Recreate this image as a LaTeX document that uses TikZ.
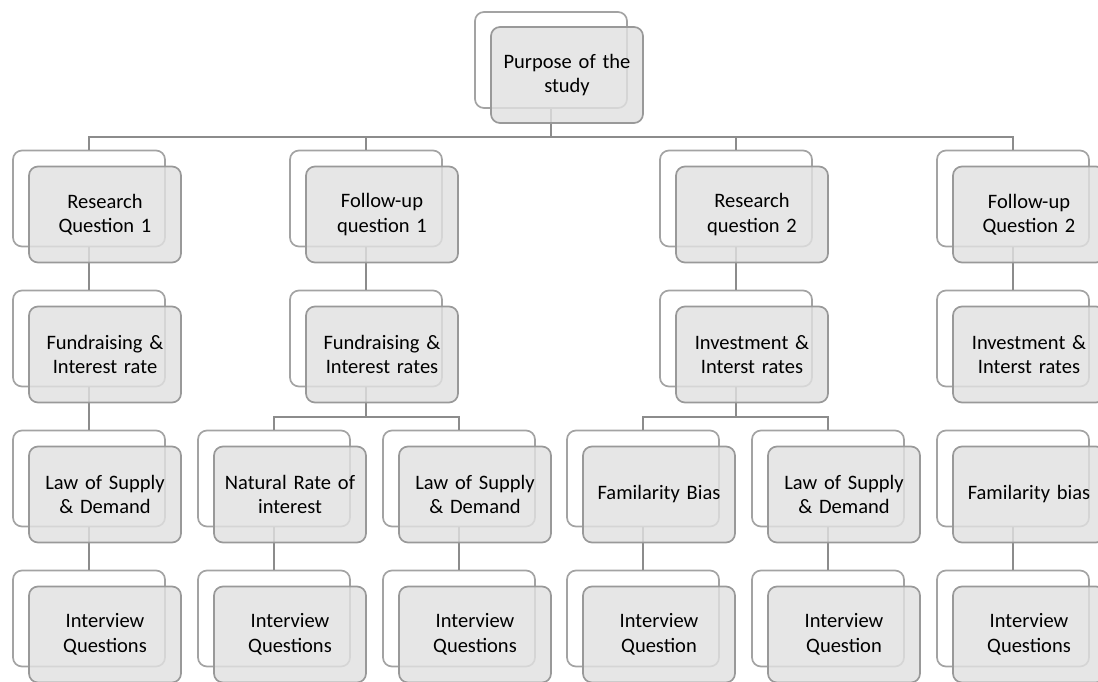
\documentclass[tikz,border=0pt]{standalone}
\usepackage{fontspec}
\setmainfont{Carlito}
\definecolor{backline}{HTML}{A3A3A3}
\definecolor{frontline}{HTML}{999999}
\definecolor{frontfill}{HTML}{E1E1E1}
\definecolor{connc}{HTML}{8C8C8C}
\tikzset{
  backbox/.style={draw=backline, fill=white, line width=1.7pt, rounded corners=9pt,
    minimum width=152pt, minimum height=96pt, inner sep=0pt},
  frontbox/.style={draw=frontline, fill=frontfill, fill opacity=0.82, text opacity=1,
    line width=1.7pt, rounded corners=9pt, minimum width=152pt, minimum height=96pt,
    inner sep=0pt, align=center, text width=150pt,
    font=\fontsize{20.5}{24.5}\selectfont, text=black},
  conn/.style={draw=connc, line width=2pt}
}
\begin{document}
\begin{tikzpicture}[x=1pt,y=-1pt]
\useasboundingbox (0,0) rectangle (1098,682);
% back boxes
\node[backbox] (t)   at (551,60) {};
\node[backbox] (c1)  at (89,198.5) {};
\node[backbox] (c2)  at (366,198.5) {};
\node[backbox] (c3)  at (736,198.5) {};
\node[backbox] (c4)  at (1013,198.5) {};
\node[backbox] (d1)  at (89,338.5) {};
\node[backbox] (d2)  at (366,338.5) {};
\node[backbox] (d3)  at (736,338.5) {};
\node[backbox] (d4)  at (1013,338.5) {};
\node[backbox] (e1)  at (89,478.5) {};
\node[backbox] (e2a) at (274,478.5) {};
\node[backbox] (e2b) at (459,478.5) {};
\node[backbox] (e3a) at (643,478.5) {};
\node[backbox] (e3b) at (828,478.5) {};
\node[backbox] (e4)  at (1013,478.5) {};
\node[backbox] (g1)  at (89,618.5) {};
\node[backbox] (g2a) at (274,618.5) {};
\node[backbox] (g2b) at (459,618.5) {};
\node[backbox] (g3a) at (643,618.5) {};
\node[backbox] (g3b) at (828,618.5) {};
\node[backbox] (g4)  at (1013,618.5) {};
% connectors
\coordinate (bus0) at (551,137);
\foreach \c in {c1,c2,c3,c4}{\draw[conn] (t.south) |- (bus0) -| (\c.north);}
\foreach \a/\b in {c1/d1,c2/d2,c3/d3,c4/d4,d1/e1,e1/g1,e2a/g2a,e2b/g2b,e3a/g3a,e3b/g3b,e4/g4}{\draw[conn] (\a.south) -- (\b.north);}
\coordinate (bus2) at (366,417);
\coordinate (bus3) at (736,417);
\foreach \c in {e2a,e2b}{\draw[conn] (d2.south) |- (bus2) -| (\c.north);}
\foreach \c in {e3a,e3b}{\draw[conn] (d3.south) |- (bus3) -| (\c.north);}
% front boxes
\node[frontbox] (tf)   at (567,75) {Purpose of the\\study};
\node[frontbox] (c1f)  at (105,214.5) {Research\\Question 1};
\node[frontbox] (c2f)  at (382,214.5) {Follow-up\\question 1};
\node[frontbox] (c3f)  at (752,214.5) {Research\\question 2};
\node[frontbox] (c4f)  at (1029,214.5) {Follow-up\\Question 2};
\node[frontbox] (d1f)  at (105,354.5) {Fundraising \&\\Interest rate};
\node[frontbox] (d2f)  at (382,354.5) {Fundraising \&\\Interest rates};
\node[frontbox] (d3f)  at (752,354.5) {Investment \&\\Interst rates};
\node[frontbox] (d4f)  at (1029,354.5) {Investment \&\\Interst rates};
\node[frontbox] (e1f)  at (105,494.5) {Law of Supply\\\& Demand};
\node[frontbox] (e2af) at (290,494.5) {Natural Rate of\\interest};
\node[frontbox] (e2bf) at (475,494.5) {Law of Supply\\\& Demand};
\node[frontbox] (e3af) at (659,494.5) {Familarity Bias};
\node[frontbox] (e3bf) at (844,494.5) {Law of Supply\\\& Demand};
\node[frontbox] (e4f)  at (1029,494.5) {Familarity bias};
\node[frontbox] (g1f)  at (105,634.5) {Interview\\Questions};
\node[frontbox] (g2af) at (290,634.5) {Interview\\Questions};
\node[frontbox] (g2bf) at (475,634.5) {Interview\\Questions};
\node[frontbox] (g3af) at (659,634.5) {Interview\\Question};
\node[frontbox] (g3bf) at (844,634.5) {Interview\\Question};
\node[frontbox] (g4f)  at (1029,634.5) {Interview\\Questions};
\end{tikzpicture}
\end{document}
